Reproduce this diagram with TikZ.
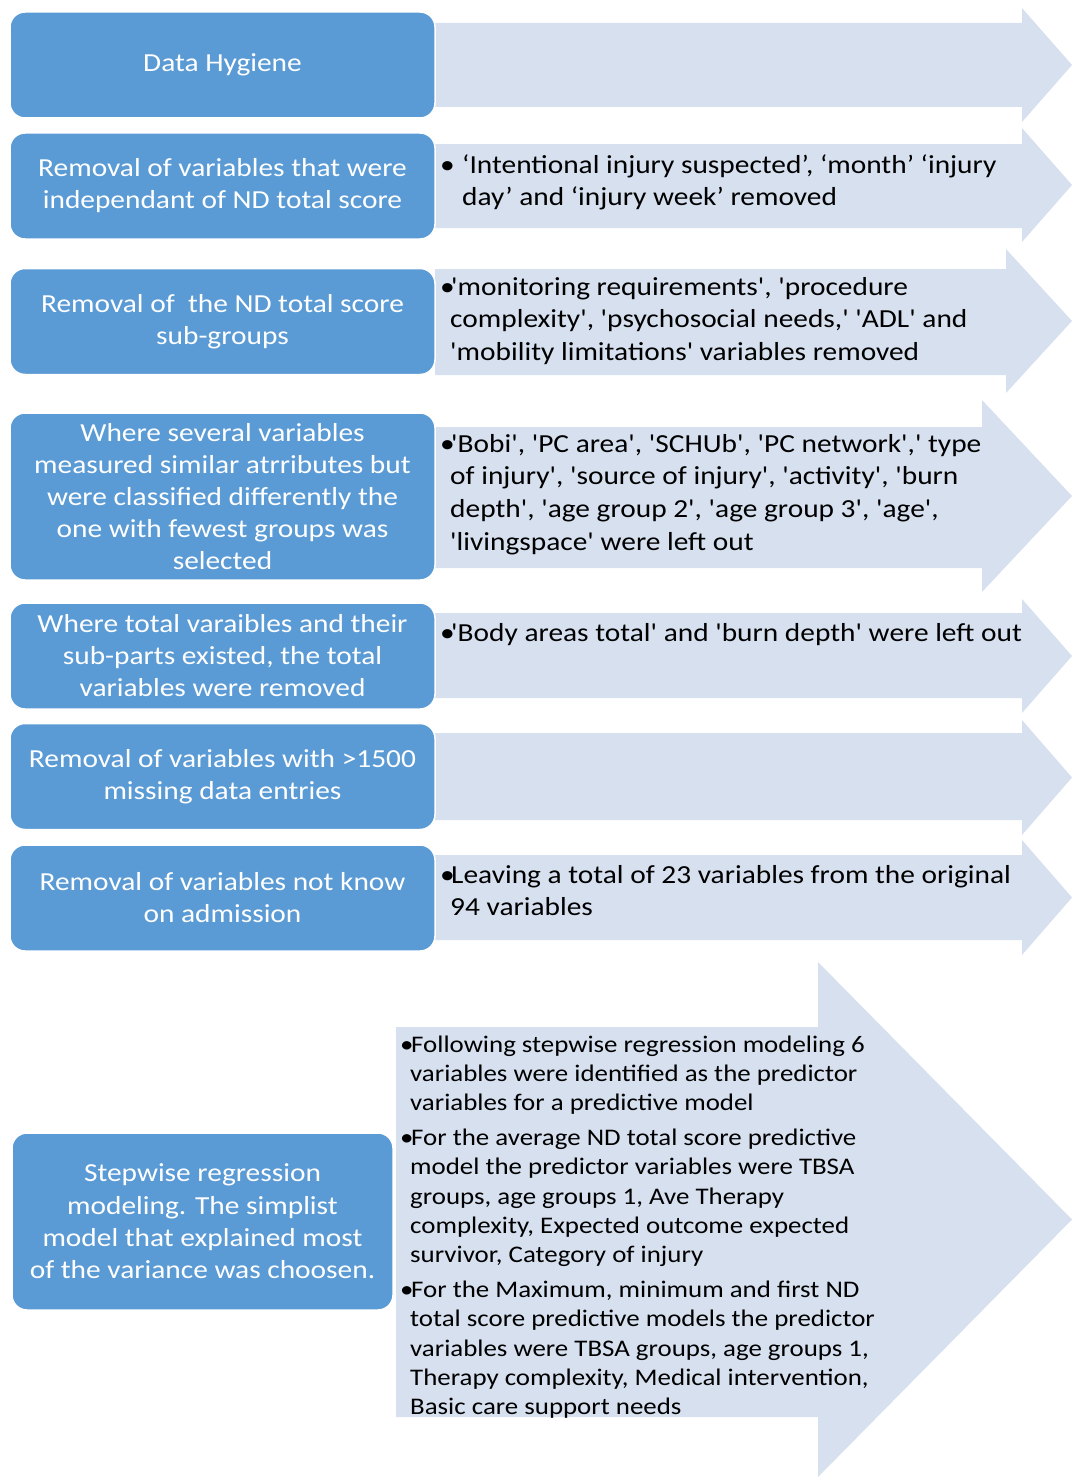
\documentclass[tikz,border=0pt]{standalone}
\usepackage{fontspec}
\setmainfont{Carlito}[Ligatures=TeXOff, FakeStretch=1.13]
\usepackage{tikz}

\definecolor{stepblue}{RGB}{91,155,213}
\definecolor{bandblue}{RGB}{214,224,239}

% lines of a bullet list, first line on the node's base
\newcommand{\notelines}[1]{\begin{tabular}[t]{@{}l@{}}#1\end{tabular}}
\newcommand{\bul}{\makebox[11pt][l]{\textbullet}}
\newcommand{\hang}{\hspace*{10pt}}

\begin{document}
\begin{tikzpicture}[
  x=1pt, y=-1pt,
  band/.style={fill=bandblue},
  stepbox/.style={rectangle, rounded corners=15pt, fill=stepblue, draw=white,
    line width=1.5pt, text=white, align=center, minimum width=425pt,
    minimum height=106pt, font=\fontsize{26}{32}\selectfont, inner sep=0pt},
  note/.style={anchor=base west, inner sep=0pt, font=\fontsize{26}{32.7}\selectfont},
  smallnote/.style={note, font=\fontsize{23.8}{29.3}\selectfont}
]
\useasboundingbox (0,0) rectangle (1072,1477);

% the wide arrows behind the steps
\foreach \bx/\bt/\bb/\hx/\ht/\hb in {435/23/107/1022/8/122, 435/144/228/1022/128/242,
    435/269/375/1006/249/393, 435/427/568/982/400/592, 435/613/698/1022/599/713,
    435/733/820/1022/720/835, 435/855/940/1022/840/955, 396/1027/1417/818/962/1477}
  \fill[band] (\bx,\bt) -- (\hx,\bt) -- (\hx,\ht) -- (1072,{(\ht+\hb)/2})
    -- (\hx,\hb) -- (\hx,\bb) -- (\bx,\bb) -- cycle;

% steps
\node[stepbox] (hygiene) at (222.5,65) {Data Hygiene};
\node[stepbox] (indep) at (222.5,186) {Removal of variables that were\\independant of ND total score};
\node[stepbox] (subgrp) at (222.5,321.5) {Removal of \ the ND total score\\sub-groups};
\node[stepbox, minimum height=167pt] (similar) at (222.5,496.5)
  {Where several variables\\measured similar atrributes but\\were classified differently the\\one with fewest groups was\\selected};
\node[stepbox] (totals) at (222.5,656) {Where total varaibles and their\\sub-parts existed, the total\\variables were removed};
\node[stepbox] (missing) at (222.5,776.5) {Removal of variables with >1500\\missing data entries};
\node[stepbox] (admission) at (222.5,898) {Removal of variables not know\\on admission};
\node[stepbox, minimum width=381pt, minimum height=177pt,
  font=\fontsize{26}{32.3}\selectfont] (stepwise) at (202.5,1221.5)
  {Stepwise regression\\modeling. The simplist\\model that explained most\\of the variance was choosen.};

% what each step left out
\node[note] (indepnote) at (440,173) {\notelines{%
  \makebox[22pt][l]{\textbullet}‘Intentional injury suspected’, ‘month’ ‘injury\\
  \hspace*{22pt}day’ and ‘injury week’ removed}};
\node[note] (subgrpnote) at (440,295) {\notelines{%
  \bul'monitoring requirements', 'procedure\\
  \hang complexity', 'psychosocial needs,' 'ADL' and\\
  \hang'mobility limitations' variables removed}};
\node[note] (similarnote) at (440,452) {\notelines{%
  \bul'Bobi', 'PC area', 'SCHUb', 'PC network',' type\\
  \hang of injury', 'source of injury', 'activity', 'burn\\
  \hang depth', 'age group 2', 'age group 3', 'age',\\
  \hang'livingspace' were left out}};
\node[note] (totalsnote) at (440,641) {\notelines{%
  \bul'Body areas total' and 'burn depth' were left out}};
\node[note] (admissionnote) at (440,883) {\notelines{%
  \bul Leaving a total of 23 variables from the original\\
  \hang 94 variables}};
\node[smallnote] (stepwisenote) at (400,1052) {\notelines{%
  \bul Following stepwise regression modeling 6\\
  \hang variables were identified as the predictor\\
  \hang variables for a predictive model\\[5.5pt]
  \bul For the average ND total score predictive\\
  \hang model the predictor variables were TBSA\\
  \hang groups, age groups 1, Ave Therapy\\
  \hang complexity, Expected outcome expected\\
  \hang survivor, Category of injury\\[5.5pt]
  \bul For the Maximum, minimum and first ND\\
  \hang total score predictive models the predictor\\
  \hang variables were TBSA groups, age groups 1,\\
  \hang Therapy complexity, Medical intervention,\\
  \hang Basic care support needs}};
\end{tikzpicture}
\end{document}
